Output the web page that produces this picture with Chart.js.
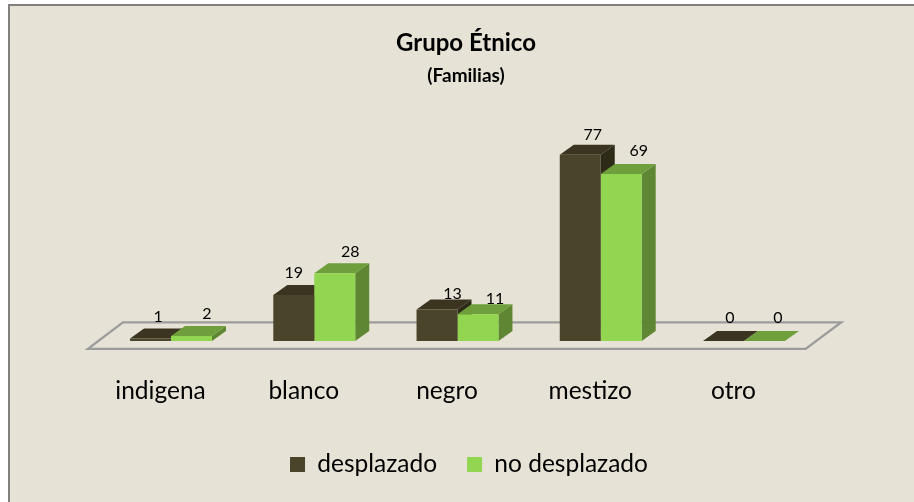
<!DOCTYPE html>
<html><head><meta charset="utf-8">
<style>html,body{margin:0;padding:0;background:#fff}#w{width:914px;height:502px}canvas{display:block}</style>
<script src="https://cdn.jsdelivr.net/npm/chart.js@4/dist/chart.umd.min.js"></script>
</head><body><div id="w"><canvas id="c" width="914" height="502"></canvas></div>
<script>
const categories = ['indigena','blanco','negro','mestizo','otro'];
const desplazado = [1,19,13,77,0];
const noDesplazado = [2,28,11,69,0];
const seriesNames = ['desplazado','no desplazado'];
const frontColors = ['#4a442a','#92d550'];
const topColors = ['#3a3420','#6e9f3c'];
const sideColors = ['#2e2a18','#5f8733'];
const labelDx = [[7.5,0,15.5,12.5,6.5],[15.5,15.5,17,17.5,13.5]];
const labelDy = [[-22,-22,-16,-20,-23],[-22,-21,-15,-23,-23]];
const FONT = 'Lato, Carlito, sans-serif';
const DEPTH_X = 14, DEPTH_Y = 10;

const extras = {
  id:'extras',
  afterLayout(ch){
    const lg = ch.legend, h = lg.bottom - lg.top;
    lg.left += 3; lg.right += 3;
    lg.top = 464.5 - 30 - 12.25; lg.bottom = lg.top + h;
  },
  beforeDraw(ch){
    const c = ch.ctx;
    c.save();
    c.fillStyle = '#e6e3d6'; c.fillRect(8,4,906,498);
    c.fillStyle = '#808080'; c.fillRect(8,4,906,2); c.fillRect(8,4,2,498);
    c.restore();
  },
  beforeDatasetsDraw(ch){
    const c = ch.ctx, a = ch.chartArea, base = ch.scales.y.getPixelForValue(0);
    c.save();
    c.strokeStyle = '#9c9c9c'; c.lineWidth = 2.4; c.lineJoin='miter';
    c.beginPath();
    c.moveTo(a.left-11.5, base+8); c.lineTo(a.left+23.5, base-18.5);
    c.lineTo(a.right+25.5, base-18.5); c.lineTo(a.right-10, base+8); c.closePath();
    c.stroke();
    [0,1].forEach(i=>{
      ch.getDatasetMeta(i).data.forEach(b=>{
        const l=b.x-b.width/2, r=b.x+b.width/2, t=b.y, bt=b.base;
        c.fillStyle = sideColors[i];
        c.beginPath(); c.moveTo(r,t); c.lineTo(r+DEPTH_X,t-DEPTH_Y); c.lineTo(r+DEPTH_X,bt-DEPTH_Y); c.lineTo(r,bt); c.closePath(); c.fill();
        c.fillStyle = topColors[i];
        c.beginPath(); c.moveTo(l,t); c.lineTo(l+DEPTH_X,t-DEPTH_Y); c.lineTo(r+DEPTH_X,t-DEPTH_Y); c.lineTo(r,t); c.closePath(); c.fill();
      });
    });
    c.restore();
  },
  afterDatasetsDraw(ch){
    const c = ch.ctx;
    c.save();
    c.font = '16px '+FONT; c.fillStyle='#000'; c.textAlign='center'; c.textBaseline='middle';
    [0,1].forEach(i=>{
      ch.getDatasetMeta(i).data.forEach((b,j)=>{
        c.fillText(String(ch.data.datasets[i].data[j]), b.x+labelDx[i][j], b.y+labelDy[i][j]);
      });
    });
    c.restore();
  }
};

new Chart(document.getElementById('c'),{
  type:'bar',
  data:{labels:categories,datasets:[
    {label:seriesNames[0],data:desplazado,backgroundColor:frontColors[0],yAxisID:'y'},
    {label:seriesNames[1],data:noDesplazado,backgroundColor:frontColors[1],yAxisID:'y'}
  ]},
  plugins:[extras],
  options:{
    responsive:false,animation:false,
    layout:{padding:{left:18,right:0,top:0,bottom:17.8}},
    datasets:{bar:{categoryPercentage:0.572,barPercentage:1,minBarLength:0}},
    plugins:{
      title:{display:true,text:'Grupo Étnico',color:'#000',font:{family:FONT,size:24,weight:'bold',lineHeight:1.2},padding:{top:28.6,bottom:3}},
      subtitle:{display:true,text:'(Familias)',color:'#000',font:{family:FONT,size:19,weight:'bold',lineHeight:1.2},padding:{top:3.6,bottom:36.5}},
      legend:{position:'bottom',labels:{boxWidth:15,boxHeight:15,color:'#000',padding:30,font:{family:FONT,size:24.5}}},
      tooltip:{enabled:false}
    },
    scales:{
      x:{grid:{display:false},border:{display:false},
         afterFit(s){s.height=78.8},
         ticks:{color:'#000',font:{family:FONT,size:24.5},padding:27.5,labelOffset:-10.5,maxRotation:0,autoSkip:false}},
      y:{position:'left',min:0,max:90,grid:{display:false},border:{display:false},ticks:{display:false},
         afterFit(s){s.width=81.4}},
      y1:{position:'right',min:0,max:90,grid:{display:false},border:{display:false},ticks:{display:false},
         afterFit(s){s.width=98.4}}
    }
  }
});
</script></body></html>
